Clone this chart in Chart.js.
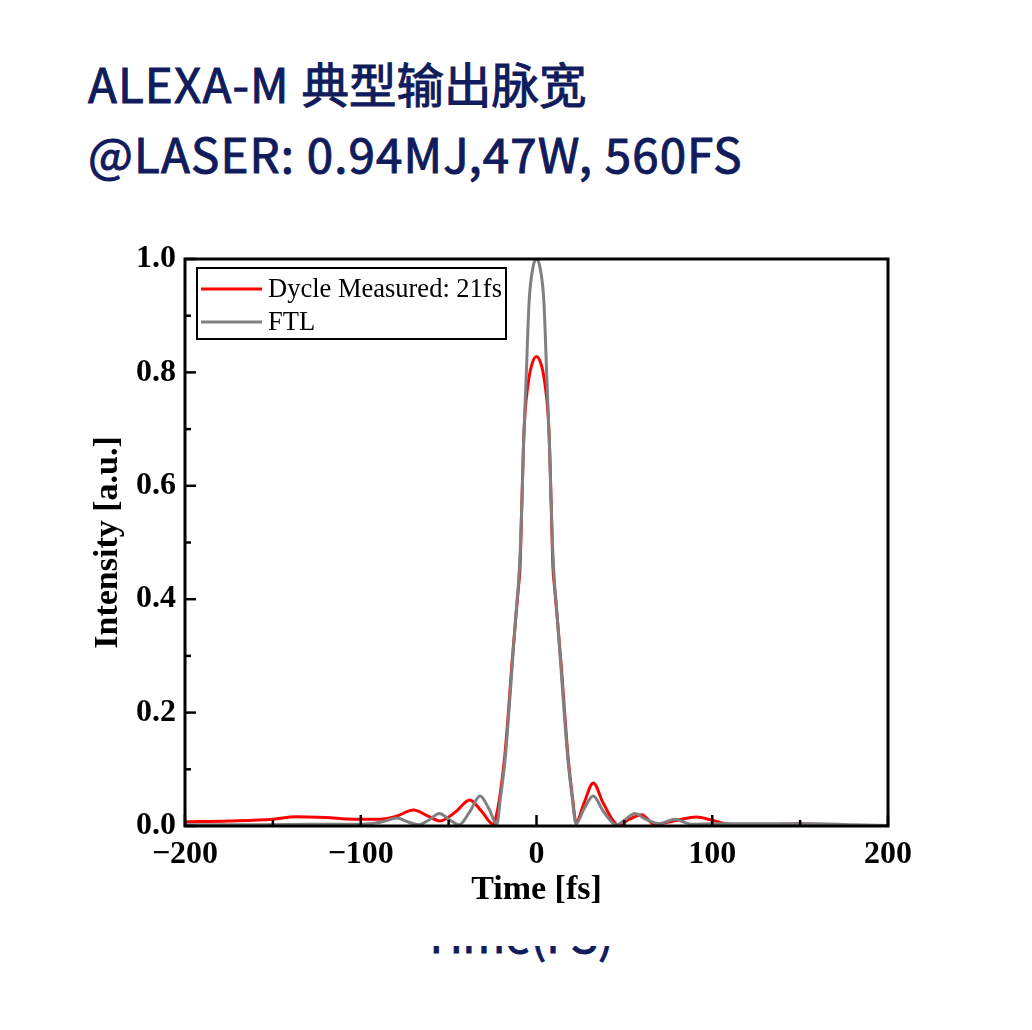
<!DOCTYPE html>
<html>
<head>
<meta charset="utf-8">
<script src="https://cdn.jsdelivr.net/npm/chart.js@4.4.1/dist/chart.umd.min.js"></script>
<style>
  html, body { margin: 0; padding: 0; background: #fff; }
  body { width: 1032px; height: 1030px; position: relative; overflow: hidden; }
  .title {
    position: absolute; left: 88px; top: 48px;
    font-family: "Noto Sans CJK SC", "Noto Sans", sans-serif;
    font-size: 47.5px; line-height: 70px; font-weight: 400;
    letter-spacing: 1.1px;
    -webkit-text-stroke: 1px #101c5c;
    color: #101c5c; white-space: nowrap;
  }
  .title .cjk { letter-spacing: 0; }
  .clip {
    position: absolute; left: 0; top: 946px; width: 1032px; height: 40px; overflow: hidden;
  }
  .under {
    position: absolute; left: 0; width: 1036px; top: -36px; text-align: center;
    font-family: "Noto Sans CJK SC", "Noto Sans", sans-serif;
    font-size: 46px; line-height: 46px; font-weight: 400; color: #101c5c;
    -webkit-text-stroke: 1px #101c5c;
  }
  .wrap {
    position: absolute; left: 0; top: 220px; width: 1032px; height: 720px;
    background: #fff;
  }
</style>
</head>
<body>
<div class="title">ALEXA-M <span class="cjk">典型输出脉宽</span><br>@LASER: 0.94MJ,47W, 560FS</div>
<div class="clip"><div class="under">Time(FS)</div></div>
<div class="wrap"><canvas id="pulseChart"></canvas></div>
<script>
// values
const ftlTime = [-200, -160, -130, -110, -95, -87, -79.5, -73, -67, -61, -55.3, -49, -44, -38, -32.1, -27, -22.6,
  -20.5, -17.9, -15.5, -13.6, -11.3, -10.2, -9.2, -8.2, -7.3, -6, -4.2, -2, 0,
  2, 4.2, 6, 7.3, 8.2, 9.2, 10.2, 11.3, 13.6, 15.5, 17.9, 20.3, 22.5,
  27, 32.3, 38, 45.6, 50, 56, 62, 70.3, 75, 78.8, 83, 88.3, 100, 130, 160, 180, 200];
const ftl = [0.002, 0.002, 0.003, 0.003, 0.004, 0.008, 0.014, 0.007, 0.002, 0.011, 0.022, 0.010, 0.002, 0.025, 0.053, 0.030, 0.003,
  0.050, 0.116, 0.210, 0.293, 0.390, 0.430, 0.490, 0.580, 0.680, 0.780, 0.925, 0.985, 1.0,
  0.985, 0.925, 0.780, 0.680, 0.580, 0.490, 0.430, 0.390, 0.293, 0.210, 0.116, 0.050, 0.004,
  0.030, 0.053, 0.026, 0.002, 0.010, 0.022, 0.012, 0.004, 0.009, 0.012, 0.008, 0.003, 0.004, 0.004, 0.004, 0.002, 0.001];

const measTime = [-200, -175, -150, -137, -120, -104, -89, -80, -70, -62, -55, -46, -38, -31, -24.6, -22.6,
  -20.5, -18, -16, -14, -12, -10.3, -9.3, -8.5, -7.5, -6.5, -5, -3, 0,
  3, 5, 6.5, 7.5, 8.5, 9.3, 10.3, 12, 14, 16, 18, 20.5, 22.5,
  27, 32.3, 38, 46.5, 53, 59.8, 67.4, 74, 80, 91, 100, 110, 130, 150, 170, 200];
const measured = [0.0076, 0.009, 0.012, 0.0165, 0.015, 0.012, 0.012, 0.017, 0.028, 0.018, 0.009, 0.025, 0.046, 0.025, 0.003, 0.022,
  0.060, 0.125, 0.200, 0.285, 0.360, 0.420, 0.460, 0.550, 0.663, 0.730, 0.775, 0.810, 0.828,
  0.810, 0.775, 0.730, 0.663, 0.550, 0.460, 0.420, 0.360, 0.285, 0.200, 0.120, 0.050, 0.006,
  0.040, 0.076, 0.040, 0.002, 0.012, 0.020, 0.002, 0.006, 0.010, 0.016, 0.010, 0.003, 0.002, 0.004, 0.001, 0.001];

const seriesLabels = ['Dycle Measured: 21fs', 'FTL'];
const xTicks = [-200, -100, 0, 100, 200];
const yTicks = [0, 0.2, 0.4, 0.6, 0.8, 1.0];

const tickFont = { family: 'Liberation Serif', size: 32, weight: 'bold' };
const titleFont = { family: 'Liberation Serif', size: 34, weight: 'bold' };

// frame, inward ticks, boxed legend
const framePlugin = {
  id: 'frame',
  afterDatasetsDraw(chart) {
    const { ctx, chartArea: a, scales: { x, y } } = chart;
    ctx.save();
    ctx.strokeStyle = '#000';
    ctx.lineWidth = 2.5;
    const tick = (x1, y1, x2, y2) => { ctx.beginPath(); ctx.moveTo(x1, y1); ctx.lineTo(x2, y2); ctx.stroke(); };
    xTicks.forEach((v, i) => {
      const px = x.getPixelForValue(v);
      tick(px, a.bottom, px, a.bottom - 11);
      if (i < xTicks.length - 1) {
        const mx = x.getPixelForValue((v + xTicks[i + 1]) / 2);
        tick(mx, a.bottom, mx, a.bottom - 6);
      }
    });
    yTicks.forEach((v, i) => {
      const py = y.getPixelForValue(v);
      tick(a.left, py, a.left + 11, py);
      if (i < yTicks.length - 1) {
        const my = y.getPixelForValue((v + yTicks[i + 1]) / 2);
        tick(a.left, my, a.left + 6, my);
      }
    });
    ctx.lineWidth = 3;
    ctx.strokeRect(a.left, a.top, a.right - a.left, a.bottom - a.top);

    // legend box
    const lx = a.left + 12, ly = a.top + 9, lw = 309, lh = 71;
    ctx.fillStyle = '#fff';
    ctx.fillRect(lx, ly, lw, lh);
    ctx.lineWidth = 2;
    ctx.strokeRect(lx, ly, lw, lh);
    ctx.font = '26.5px "Liberation Serif"';
    ctx.textBaseline = 'middle';
    ctx.textAlign = 'left';
    chart.data.datasets.forEach((ds, i) => {
      const rowY = ly + 21 + i * 33;
      ctx.strokeStyle = ds.borderColor;
      ctx.lineWidth = 3;
      tick(lx + 4, rowY, lx + 65, rowY);
      ctx.fillStyle = '#000';
      ctx.fillText(ds.label, lx + 71, rowY + 1);
    });
    ctx.restore();
  }
};

new Chart(document.getElementById('pulseChart'), {
  type: 'line',
  data: {
    datasets: [
      {
        label: seriesLabels[0],
        data: measTime.map((t, i) => ({ x: t, y: measured[i] })),
        borderColor: '#ff0000',
        borderWidth: 3,
        pointRadius: 0,
        cubicInterpolationMode: 'monotone',
        order: 2
      },
      {
        label: seriesLabels[1],
        data: ftlTime.map((t, i) => ({ x: t, y: ftl[i] })),
        borderColor: '#808080',
        borderWidth: 3,
        pointRadius: 0,
        cubicInterpolationMode: 'monotone',
        order: 1
      }
    ]
  },
  options: {
    responsive: true,
    maintainAspectRatio: false,
    animation: false,
    layout: { padding: { left: 0, right: 144, top: 39, bottom: 0 } },
    scales: {
      x: {
        type: 'linear', min: -200, max: 200,
        afterFit: s => { s.height = 720 - 606; },
        afterBuildTicks: s => { s.ticks = xTicks.map(v => ({ value: v })); },
        grid: { display: false, drawTicks: false },
        border: { display: false },
        ticks: {
          color: '#000', font: tickFont, padding: 10, maxRotation: 0,
          callback: v => String(v).replace('-', '\u2212')
        },
        title: { display: true, text: 'Time [fs]', color: '#000', font: titleFont, padding: { top: 0, bottom: 29 } }
      },
      y: {
        type: 'linear', min: 0, max: 1,
        afterFit: s => { s.width = 185; },
        afterBuildTicks: s => { s.ticks = yTicks.map(v => ({ value: v })); },
        grid: { display: false, drawTicks: false },
        border: { display: false },
        ticks: { color: '#000', font: tickFont, padding: 9, callback: v => v.toFixed(1) },
        title: { display: true, text: 'Intensity [a.u.]', color: '#000', font: titleFont, padding: { top: 88, bottom: 0 } }
      }
    },
    plugins: {
      legend: { display: false },
      tooltip: { enabled: false }
    }
  },
  plugins: [framePlugin]
});
</script>
</body>
</html>
